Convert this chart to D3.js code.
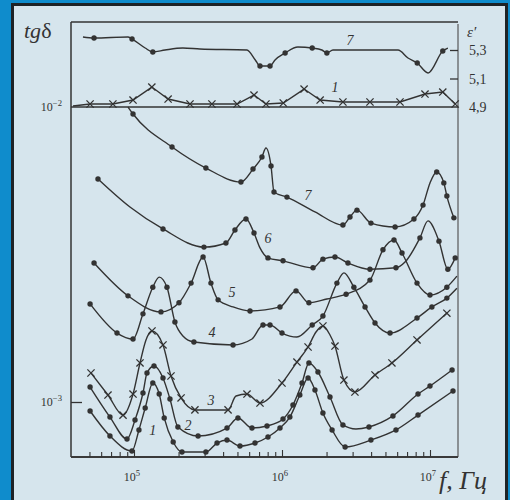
<!DOCTYPE html>
<html>
<head>
<meta charset="utf-8">
<script src="https://cdn.jsdelivr.net/npm/d3@7"></script>
<style>
  body { margin: 0; background: #0f8ccc; }
  text { font-family: "Liberation Serif", "DejaVu Serif", serif; fill: #333; }
</style>
</head>
<body>
<svg id="chart" width="510" height="500"></svg>
<script>
// tg delta vs frequency, curves 1..7 ; m = 1 where a marker is drawn
const f1 = [5.05e4, 6.88e4, 9.69e4, 1.08e5, 1.19e5, 1.34e5, 1.48e5, 1.60e5, 1.84e5, 2.11e5, 3.06e5, 3.64e5, 4.25e5, 5.20e5, 6.57e5, 8.04e5, 9.69e5, 1.13e6, 1.32e6, 1.50e6, 1.67e6, 1.89e6, 2.18e6, 2.67e6, 3.99e6, 5.89e6, 8.30e6, 1.43e7]
const tg1 = [9.32e-4, 7.67e-4, 6.82e-4, 8.04e-4, 9.54e-4, 1.16e-3, 1.064e-3, 8.83e-4, 7.32e-4, 6.77e-4, 6.77e-4, 7.26e-4, 7.43e-4, 7.09e-4, 7.26e-4, 7.61e-4, 8.16e-4, 8.89e-4, 1.056e-3, 1.206e-3, 1.098e-3, 9.18e-4, 8.04e-4, 7.04e-4, 7.43e-4, 8.04e-4, 9.03e-4, 1.09e-3]

const f2 = [5.05e4, 6.88e4, 8.97e4, 1.016e5, 1.15e5, 1.224e5, 1.365e5, 1.57e5, 1.75e5, 1.98e5, 2.71e5, 4.25e5, 5.04e5, 6.27e5, 7.92e5, 1.016e6, 1.186e6, 1.365e6, 1.52e6, 1.75e6, 2.11e6, 2.58e6, 3.16e6, 3.87e6, 5.62e6, 8.30e6, 1.0e7, 1.41e7]
const tg2 = [1.124e-3, 8.89e-4, 7.49e-4, 8.69e-4, 1.073e-3, 1.254e-3, 1.324e-3, 1.206e-3, 1.024e-3, 8.23e-4, 7.67e-4, 8.16e-4, 8.83e-4, 8.16e-4, 8.29e-4, 8.76e-4, 9.77e-4, 1.16e-3, 1.356e-3, 1.264e-3, 1.04e-3, 8.36e-4, 8.10e-4, 8.23e-4, 8.97e-4, 1.064e-3, 1.133e-3, 1.284e-3]
const m2 = [1,1,1,1,1,1,1,1,1,1,1,1,1,1,1,1,1,1,1,1,1,1,0,1,1,1,1,1]

const f3 = [5.12e4, 6.67e4, 8.43e4, 9.85e4, 1.098e5, 1.205e5, 1.323e5, 1.57e5, 1.778e5, 2.08e5, 2.58e5, 4.32e5, 4.89e5, 5.80e5, 7.10e5, 1.0e6, 1.262e6, 1.50e6, 1.697e6, 1.89e6, 2.11e6, 2.28e6, 2.62e6, 3.11e6, 4.25e6, 5.53e6, 8.17e6, 1.30e7]
const tg3 = [1.254e-3, 1.056e-3, 9.03e-4, 1.064e-3, 1.356e-3, 1.623e-3, 1.741e-3, 1.561e-3, 1.225e-3, 1.032e-3, 9.40e-4, 9.40e-4, 1.048e-3, 1.064e-3, 9.92e-4, 1.16e-3, 1.366e-3, 1.536e-3, 1.727e-3, 1.81e-3, 1.687e-3, 1.548e-3, 1.187e-3, 1.081e-3, 1.235e-3, 1.356e-3, 1.623e-3, 2.0e-3]
const m3 = [1,1,1,1,1,0,1,1,1,1,1,1,0,1,1,1,1,1,0,1,0,1,1,1,1,1,1,1]

const f4 = [5.05e4, 7.68e4, 9.85e4, 1.15e5, 1.34e5, 1.48e5, 1.67e5, 1.89e5, 2.14e5, 2.54e5, 4.67e5, 6.27e5, 7.44e5, 8.30e5, 1.0e6, 1.262e6, 1.60e6, 1.89e6, 2.35e6, 2.62e6, 3.06e6, 3.64e6, 4.25e6, 5.37e6, 8.17e6, 1.03e7, 1.30e7, 1.52e7]
const tg4 = [2.15e-3, 1.713e-3, 1.635e-3, 1.99e-3, 2.45e-3, 2.65e-3, 2.45e-3, 1.867e-3, 1.674e-3, 1.597e-3, 1.561e-3, 1.635e-3, 1.824e-3, 1.824e-3, 1.713e-3, 1.661e-3, 1.824e-3, 1.956e-3, 2.53e-3, 2.74e-3, 2.45e-3, 2.10e-3, 1.853e-3, 1.713e-3, 1.926e-3, 2.10e-3, 2.25e-3, 2.43e-3]
const m4 = [1,1,1,1,1,0,1,1,0,1,1,0,1,1,1,0,1,1,1,0,1,1,1,1,1,1,1,0]

const f5 = [5.37e4, 9.11e4, 1.522e5, 2.014e5, 2.43e5, 2.93e5, 3.31e5, 3.70e5, 4.67e5, 6.08e5, 9.69e5, 1.244e6, 1.52e6, 2.01e6, 2.71e6, 3.93e6, 4.81e6, 5.71e6, 6.47e6, 8.17e6, 1.0e7, 1.30e7, 1.52e7]
const tg5 = [2.96e-3, 2.29e-3, 2.02e-3, 2.17e-3, 2.53e-3, 3.10e-3, 2.53e-3, 2.22e-3, 2.10e-3, 2.035e-3, 2.10e-3, 2.38e-3, 2.17e-3, 2.235e-3, 2.32e-3, 2.59e-3, 3.28e-3, 3.54e-3, 3.20e-3, 2.53e-3, 2.305e-3, 2.45e-3, 2.67e-3]
const m5 = [1,1,1,1,1,1,1,1,0,1,1,1,1,0,1,1,1,1,1,1,1,1,0]

const f6 = [5.71e4, 9.39e4, 1.57e5, 2.97e5, 4.18e5, 4.81e5, 5.71e5, 6.47e5, 7.10e5, 8.04e5, 1.016e6, 1.62e6, 1.89e6, 2.28e6, 2.79e6, 3.93e6, 5.89e6, 6.78e6, 8.55e6, 9.69e6, 1.15e7, 1.32e7, 1.48e7]
const tg6 = [5.70e-3, 4.58e-3, 3.86e-3, 3.35e-3, 3.46e-3, 3.83e-3, 4.17e-3, 3.74e-3, 3.33e-3, 3.08e-3, 3.01e-3, 2.85e-3, 3.05e-3, 3.10e-3, 2.96e-3, 2.82e-3, 2.85e-3, 2.98e-3, 3.60e-3, 4.11e-3, 3.51e-3, 2.82e-3, 3.08e-3]
const m6 = [1,0,1,1,1,1,1,1,0,1,1,1,1,1,1,1,1,0,1,0,1,1,1]

const f7 = [9.11e4, 9.85e4, 1.807e5, 3.06e5, 5.28e5, 6.37e5, 7.32e5, 7.79e5, 8.43e5, 8.83e5, 1.08e6, 1.67e6, 2.58e6, 2.88e6, 3.21e6, 3.99e6, 5.81e6, 7.79e6, 8.97e6, 1.0e7, 1.11e7, 1.24e7, 1.30e7, 1.45e7]
const tg7 = [1.0e-2, 9.47e-3, 7.32e-3, 6.21e-3, 5.57e-3, 6.16e-3, 6.77e-3, 7.26e-3, 6.31e-3, 5.15e-3, 4.95e-3, 4.41e-3, 3.98e-3, 4.24e-3, 4.47e-3, 4.04e-3, 3.92e-3, 4.17e-3, 4.65e-3, 5.53e-3, 6.02e-3, 5.53e-3, 4.99e-3, 4.21e-3]
const m7 = [0,1,1,1,1,1,1,0,1,1,1,0,1,1,1,1,1,1,1,0,1,1,1,1]

// epsilon' vs frequency (right scale), curves 7 and 1
const epsF7 = [4.52e4, 5.37e4, 9.1e4, 9.7e4, 1.19e5, 1.34e5, 1.62e5, 2.14e5, 2.79e5, 5.8e5, 6.6e5, 7.1e5, 8.3e5, 8.97e5, 1.05e6, 1.28e6, 1.60e6, 1.86e6, 2.01e6, 2.21e6, 6.08e6, 7.1e6, 8.2e6, 9.7e6, 1.22e7, 1.32e7]
const eps7 = [5.391, 5.384, 5.391, 5.377, 5.314, 5.286, 5.30, 5.314, 5.307, 5.30, 5.23, 5.188, 5.188, 5.23, 5.279, 5.321, 5.314, 5.30, 5.279, 5.30, 5.30, 5.244, 5.209, 5.139, 5.293, 5.314]
const epsM7 = [0,1,0,1,0,1,0,0,0,0,0,1,1,0,1,0,1,0,1,0,0,0,1,0,1,0]

const epsF1 = [3.87e4, 5.05e4, 7.2e4, 9.85e4, 1.32e5, 1.70e5, 2.39e5, 3.36e5, 4.97e5, 6.47e5, 7.79e5, 1.02e6, 1.41e6, 1.81e6, 2.58e6, 3.93e6, 6.27e6, 9.25e6, 1.22e7, 1.48e7]
const eps1 = [4.907, 4.921, 4.921, 4.949, 5.040, 4.956, 4.921, 4.921, 4.921, 4.984, 4.921, 4.928, 5.026, 4.949, 4.935, 4.935, 4.935, 4.991, 5.005, 4.921]

const xMajor = [1e5, 1e6, 1e7]
const xMajorExp = ["5", "6", "7"]
const yMajor = [1e-2, 1e-3]
const yMajorExp = ["\u22122", "\u22123"]
const epsTicks = [5.3, 5.1, 4.9]
const epsTickLabels = ["5,3", "5,1", "4,9"]

const ink = "#333"
const svg = d3.select("#chart")

svg.append("rect").attr("width", 510).attr("height", 500).attr("fill", "#0f8ccc")
svg.append("rect")
    .attr("x", 12.5).attr("y", 4.5).attr("width", 494).attr("height", 510)
    .attr("fill", "#d6e5ed").attr("stroke", "#1e2326").attr("stroke-width", 3)

var margin = {top: 22, right: 52, bottom: 43, left: 71},
    width = 510 - margin.left - margin.right,
    height = 500 - margin.top - margin.bottom;

var g = svg.append("g")
    .attr("transform", "translate(" + margin.left + "," + margin.top + ")");

var x = d3.scaleLog().domain([1e5, 1e7]).range([63, 359])
var y = d3.scaleLog().domain([1e-2, 1e-3]).range([85, 380])
var yEps = d3.scaleLinear().domain([4.9, 5.3]).range([85, 28])

// frame
g.append("line").attr("x1", 0).attr("x2", 0).attr("y1", 0).attr("y2", height)
    .attr("stroke", ink).attr("stroke-width", 1.5)
g.append("line").attr("x1", 0).attr("x2", width).attr("y1", 0).attr("y2", 0)
    .attr("stroke", ink).attr("stroke-width", 1.5)
g.append("line").attr("x1", width).attr("x2", width).attr("y1", 2).attr("y2", height)
    .attr("stroke", "#8a9094").attr("stroke-width", 2)
g.append("line").attr("x1", 0).attr("x2", width).attr("y1", height).attr("y2", height)
    .attr("stroke", "#3a3a3a").attr("stroke-width", 2)
// 10^-2 level line, also eps' = 4.9
g.append("line").attr("x1", 0).attr("x2", width).attr("y1", y(1e-2)).attr("y2", y(1e-2))
    .attr("stroke", ink).attr("stroke-width", 1.3)

// bottom ticks, pointing inwards
var minor = []
for (var p = 4; p <= 7; p++) {
    for (var k = 1; k <= 9; k++) {
        var v = k * Math.pow(10, p)
        if (v >= 5e4 && v <= 1e7 && k !== 1) minor.push(v)
    }
}
var xAxisMinor = g.append("g")
    .attr("transform", "translate(0," + height + ")")
    .call(d3.axisBottom(x).tickValues(minor).tickSize(-5).tickFormat(""))
var xAxisMajor = g.append("g")
    .attr("transform", "translate(0," + height + ")")
    .call(d3.axisBottom(x).tickValues(xMajor).tickSize(-7).tickFormat(""))
xAxisMinor.select(".domain").remove()
xAxisMajor.select(".domain").remove()
g.selectAll(".tick line").attr("stroke", ink).attr("stroke-width", 1.1)

// left tick at 10^-3
var yAxis = g.append("g")
    .call(d3.axisLeft(y).tickValues([1e-3]).tickSize(-11).tickFormat(""))
yAxis.select(".domain").remove()
yAxis.selectAll("line").attr("stroke", ink).attr("stroke-width", 1.3)

// right eps' ticks
var epsAxis = g.append("g")
    .attr("transform", "translate(" + width + ",0)")
    .call(d3.axisRight(yEps).tickValues([5.3, 5.1]).tickSize(-8).tickFormat(""))
epsAxis.select(".domain").remove()
epsAxis.selectAll("line").attr("stroke", ink).attr("stroke-width", 1.3)

// tick labels
function powerLabel(sel, base, exp, size) {
    sel.append("tspan").text(base)
    sel.append("tspan").attr("dy", -size * 0.45).attr("font-size", size * 0.72).text(exp)
}
xMajor.forEach(function(v, i) {
    var t = g.append("text").attr("x", x(v) - 2).attr("y", height + 24)
        .attr("text-anchor", "middle").attr("font-size", 12)
    powerLabel(t, "10", xMajorExp[i], 12)
})
yMajor.forEach(function(v, i) {
    var t = g.append("text").attr("x", -9).attr("y", y(v) + 4)
        .attr("text-anchor", "end").attr("font-size", 12)
    powerLabel(t, "10", yMajorExp[i], 12)
})
epsTicks.forEach(function(v, i) {
    g.append("text").attr("x", width + 11).attr("y", yEps(v) + 5)
        .attr("font-size", 14).text(epsTickLabels[i])
})

svg.append("text").attr("x", 24).attr("y", 38).attr("font-size", 22)
    .call(function(t) {
        t.append("tspan").attr("font-style", "italic").text("tg")
        t.append("tspan").text("\u03b4")
    })
svg.append("text").attr("x", 467).attr("y", 37).attr("font-size", 15)
    .attr("font-style", "italic").text("\u03b5\u2032")
svg.append("text").attr("x", 439).attr("y", 489).attr("font-size", 26)
    .attr("font-style", "italic").text("f, \u0413\u0446")

// curves
var tgSeries = [
    {f: f1, v: tg1, m: null, mark: "dot"},
    {f: f2, v: tg2, m: m2, mark: "dot"},
    {f: f3, v: tg3, m: m3, mark: "cross"},
    {f: f4, v: tg4, m: m4, mark: "dot"},
    {f: f5, v: tg5, m: m5, mark: "dot"},
    {f: f6, v: tg6, m: m6, mark: "dot"},
    {f: f7, v: tg7, m: m7, mark: "dot"}
]
var epsSeries = [
    {f: epsF7, v: eps7, m: epsM7, mark: "dot", linear: false},
    {f: epsF1, v: eps1, m: eps1.map(function(d, i) { return i === 0 ? 0 : 1 }), mark: "cross", linear: true}
]

function drawSeries(s, yScale) {
    var data = s.f.map(function(f, i) {
        return {f: f, v: s.v[i], m: s.m ? s.m[i] : 1}
    })
    g.append("path")
        .datum(data)
        .attr("fill", "none")
        .attr("stroke", ink)
        .attr("stroke-width", 1.4)
        .attr("d", d3.line()
            .x(function(d) { return x(d.f) })
            .y(function(d) { return yScale(d.v) })
            .curve(s.linear ? d3.curveLinear : d3.curveMonotoneX))
    var pts = data.filter(function(d) { return d.m })
    if (s.mark === "dot") {
        g.append("g").selectAll("circle")
            .data(pts).enter().append("circle")
            .attr("cx", function(d) { return x(d.f) })
            .attr("cy", function(d) { return yScale(d.v) })
            .attr("r", 2.7)
            .attr("fill", ink)
    } else {
        g.append("g").selectAll("path")
            .data(pts).enter().append("path")
            .attr("d", function(d) {
                var cx = x(d.f), cy = yScale(d.v), r = 3.6
                return "M" + (cx - r) + "," + (cy - r) + "L" + (cx + r) + "," + (cy + r) +
                       "M" + (cx - r) + "," + (cy + r) + "L" + (cx + r) + "," + (cy - r)
            })
            .attr("stroke", ink)
            .attr("stroke-width", 1.3)
    }
}
tgSeries.forEach(function(s) { drawSeries(s, y) })
epsSeries.forEach(function(s) { drawSeries(s, yEps) })

// curve numbers
var labelText = ["7", "1", "7", "6", "5", "4", "3", "2", "1"]
var labelF = [2.88e6, 2.28e6, 1.50e6, 8.04e5, 4.59e5, 3.37e5, 3.31e5, 2.32e5, 1.34e5]
var labelV = [5.37, 5.04, 5.04e-3, 3.60e-3, 2.36e-3, 1.73e-3, 1.016e-3, 8.36e-4, 8.04e-4]
labelText.forEach(function(t, i) {
    var yy = i < 2 ? yEps(labelV[i]) : y(labelV[i])
    g.append("text")
        .attr("x", x(labelF[i]))
        .attr("y", yy + 5)
        .attr("text-anchor", "middle")
        .attr("font-size", 14)
        .attr("font-style", "italic")
        .text(t)
})
</script>
</body>
</html>
